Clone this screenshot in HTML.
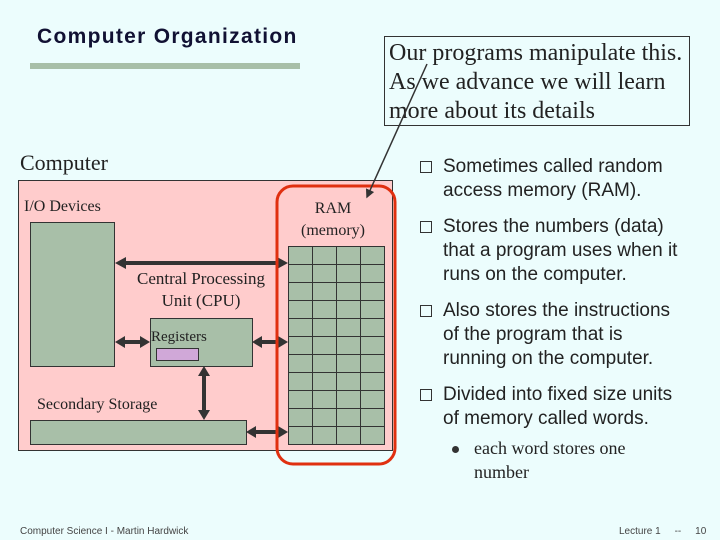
<!DOCTYPE html>
<html><head><style>
body{margin:0;width:720px;height:540px;background:#ecfdfd;position:relative;overflow:hidden;font-family:"Liberation Serif",serif;}
.a{position:absolute;}
.sans{font-family:"Liberation Sans",sans-serif;}
.bul{font-family:"Liberation Sans",sans-serif;font-size:19px;line-height:24px;color:#222;white-space:nowrap;}
.bul .sq{position:absolute;left:0;top:6px;width:12px;height:12px;border:1.5px solid #333;box-sizing:border-box;}
</style></head><body>
<div class="a sans" style="left:37px;top:25px;font-size:21px;font-weight:bold;color:#113;letter-spacing:1.3px;">Computer Organization</div>
<div class="a" style="left:30px;top:63px;width:270px;height:6px;background:#a8bfa8;"></div>
<div class="a" style="left:384px;top:36px;width:306px;height:90px;border:1px solid #333;font-size:24px;line-height:29px;padding:2px 4px;box-sizing:border-box;color:#222;white-space:nowrap;">Our programs manipulate this.<br>As we advance we will learn<br>more about its details</div>
<div class="a" style="left:20px;top:150px;font-size:22px;color:#222;">Computer</div>
<svg class="a" style="left:0;top:0" width="720" height="540">
<defs><marker id="h" markerWidth="6" markerHeight="6" refX="5" refY="3" orient="auto-start-reverse" markerUnits="strokeWidth"><path d="M0,0L6,3L0,6z" fill="#333"/></marker></defs>
<rect x="18.5" y="180.5" width="374" height="270" fill="#ffcccc" stroke="#333"/>
<rect x="30.5" y="222.5" width="84" height="144" fill="#a8bfa8" stroke="#333"/>
<rect x="150.5" y="318.5" width="102" height="48" fill="#a8bfa8" stroke="#333"/>
<rect x="156.5" y="348.5" width="42" height="12" fill="#d0a8d8" stroke="#333"/>
<rect x="30.5" y="420.5" width="216" height="24" fill="#a8bfa8" stroke="#333"/>
<g stroke="#333" fill="#a8bfa8">
<rect x="288.5" y="246.5" width="96" height="198"/>
<path d="M312.5 246v198M336.5 246v198M360.5 246v198M288 264.5h96M288 282.5h96M288 300.5h96M288 318.5h96M288 336.5h96M288 354.5h96M288 372.5h96M288 390.5h96M288 408.5h96M288 426.5h96" fill="none"/>
</g>
<g fill="#333">
<path d="M115 263l11 -6v4h151v-4l11 6l-11 6v-4h-151v4z"/>
<path d="M115 342l10 -6v4h15v-4l10 6l-10 6v-4h-15v4z"/>
<path d="M252 342l10 -6v4h16v-4l10 6l-10 6v-4h-16v4z"/>
<path d="M246 432l10 -6v4h22v-4l10 6l-10 6v-4h-22v4z"/>
<path d="M204 366l-6 10h4v34h-4l6 10l6 -10h-4v-34h4z"/>
</g>
<rect x="277" y="186" width="118" height="278" rx="16" fill="none" stroke="#e03010" stroke-width="3"/>
<line x1="427" y1="64" x2="367" y2="197" stroke="#333" stroke-width="1.5" marker-end="url(#h)"/>
</svg>
<div class="a" style="left:24px;top:198px;font-size:16px;color:#222;">I/O Devices</div>
<div class="a" style="left:290px;top:198px;width:86px;text-align:center;font-size:16px;line-height:22px;color:#222;">RAM<br>(memory)</div>
<div class="a" style="left:116px;top:268px;width:170px;text-align:center;font-size:17px;line-height:22px;color:#222;">Central Processing<br>Unit (CPU)</div>
<div class="a" style="left:151px;top:329px;font-size:15px;color:#222;">Registers</div>
<div class="a" style="left:37px;top:396px;font-size:16px;color:#222;">Secondary Storage</div>
<div class="a bul" style="left:420px;top:155px;"><div class="sq"></div><div style="margin-left:23px">Sometimes called random<br>access memory (RAM).</div></div>
<div class="a bul" style="left:420px;top:215px;"><div class="sq"></div><div style="margin-left:23px">Stores the numbers (data)<br>that a program uses when it<br>runs on the computer.</div></div>
<div class="a bul" style="left:420px;top:299px;"><div class="sq"></div><div style="margin-left:23px">Also stores the instructions<br>of the program that is<br>running on the computer.</div></div>
<div class="a bul" style="left:420px;top:383px;"><div class="sq"></div><div style="margin-left:23px">Divided into fixed size units<br>of memory called words.</div></div>
<div class="a" style="left:452px;top:446px;width:7px;height:7px;border-radius:50%;background:#333;"></div>
<div class="a" style="left:474px;top:436px;font-size:18px;line-height:24px;color:#222;">each word stores one<br>number</div>
<div class="a sans" style="left:20px;top:526px;font-size:10px;color:#444;">Computer Science I - Martin Hardwick</div>
<div class="a sans" style="left:619px;top:526px;font-size:10px;color:#444;">Lecture 1 &nbsp;&nbsp;&nbsp;&nbsp;-- &nbsp;&nbsp;&nbsp;&nbsp;10</div>
</body></html>
